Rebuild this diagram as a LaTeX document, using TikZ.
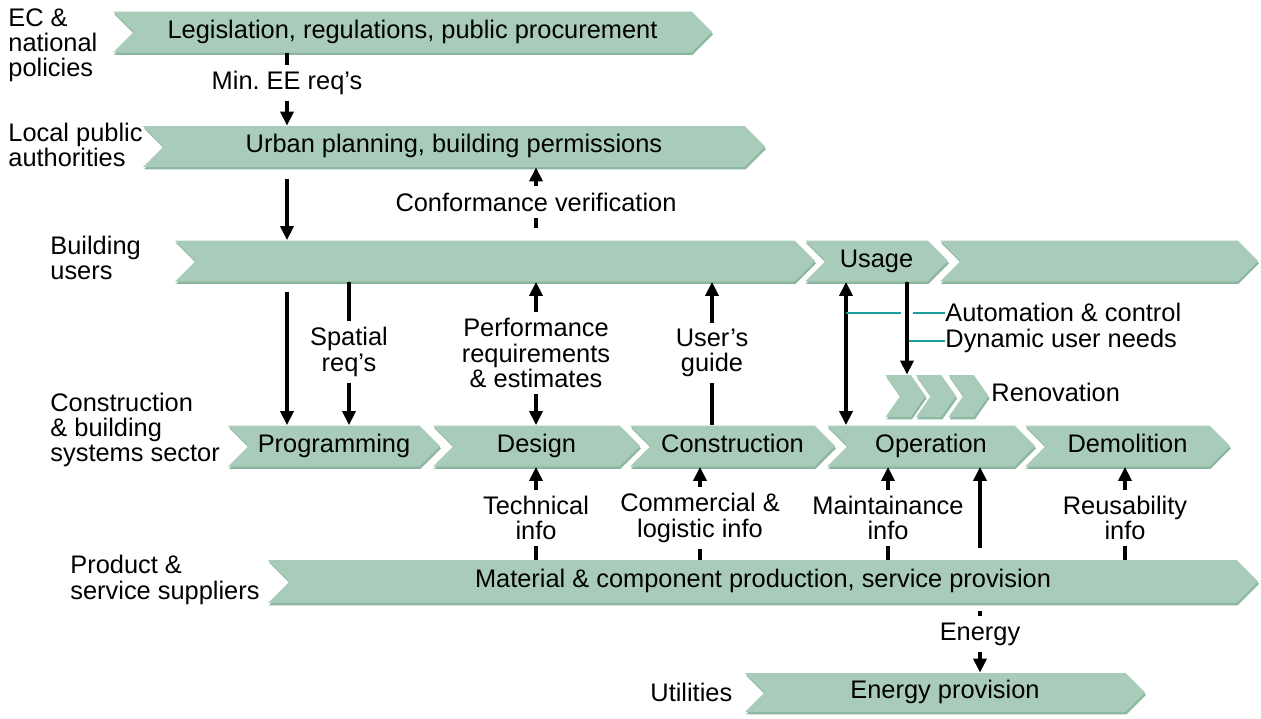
\documentclass[tikz,border=0pt]{standalone}
\usepackage{fontspec}
\setmainfont{Liberation Sans}
\usetikzlibrary{shapes.symbols}
\usetikzlibrary{shadows}
\usetikzlibrary{arrows.meta}
\frenchspacing

\definecolor{chevfill}{RGB}{169,204,186}
\definecolor{chevshade}{RGB}{138,182,160}
\definecolor{leadteal}{RGB}{30,158,158}

\begin{document}
\begin{tikzpicture}
        [
        x=0.5pt, y=-0.5pt,
        every node/.style={font=\fontsize{12.7}{12.6}\selectfont, inner sep=1pt},
        chev/.style={signal, signal from=west, signal to=east, signal pointer angle=90,
          fill=chevfill, minimum height=20.5pt, inner sep=0pt, text height=1.6ex, text depth=0.4ex,
          drop shadow={shadow xshift=0.5pt, shadow yshift=-1.2pt, fill=chevshade, opacity=1}},
        lbl/.style={align=center, inner sep=3pt},
        side/.style={align=left, anchor=west, inner sep=0pt},
        flow/.style={line width=2pt},
        flowto/.style={line width=2pt, -{Triangle[length=7pt,width=6.5pt]}},
        flowboth/.style={line width=2pt, {Triangle[length=7pt,width=6.5pt]}-{Triangle[length=7pt,width=6.5pt]}},
        leader/.style={leadteal, line width=0.6pt}
        ]
        \useasboundingbox (0,0) rectangle (1261,718);

        % process rows
        \node[chev, minimum width=299.5pt] (legis) at (412.5,32) {Legislation, regulations, public procurement};
        \node[chev, minimum width=311pt] (urban) at (454,146.5) {Urban planning, building permissions};
        \node[chev, minimum width=320pt] (users) at (495,261) {};
        \node[chev, minimum width=71.5pt] (usage) at (876.5,261) {Usage};
        \node[chev, minimum width=159pt] (later) at (1099,261) {};
        \node[chev, minimum width=106pt] (prog) at (334,446) {Programming};
        \node[chev, minimum width=103.5pt] (design) at (536.5,446) {Design};
        \node[chev, minimum width=102.5pt] (constr) at (732.5,446) {Construction};
        \node[chev, minimum width=104pt] (oper) at (931,446) {Operation};
        \node[chev, minimum width=102.5pt] (demol) at (1127.5,446) {Demolition};
        \foreach \i/\x in {1/905.5, 2/936, 3/968.5}
            \node[chev, signal pointer angle=110, minimum width=20pt, minimum height=21pt] (reno\i) at (\x,396) {};
        \node[chev, minimum width=495pt, minimum height=21.5pt] (matl) at (763,581.5) {Material \& component production, service provision};
        \node[chev, minimum width=200pt, minimum height=19.5pt] (enprov) at (945,692.5) {Energy provision};

        % actors
        \node[side] (ec) at (8,45) {EC \&\\national\\policies};
        \node[side] (local) at (8,145) {Local public\\authorities};
        \node[side] (buser) at (50,258) {Building\\users};
        \node[side] (cbss) at (50,430) {Construction\\\& building\\systems sector};
        \node[side] (psupp) at (70,580) {Product \&\\service suppliers};
        \node[side] (util) at (650,692) {Utilities};

        % flow labels
        \node[lbl] (minee) at (287,83) {Min. EE req’s};
        \node[lbl] (conf) at (536,202) {Conformance verification};
        \node[lbl] (spatial) at (349,352) {Spatial\\req’s};
        \node[lbl] (perf) at (536,353) {Performance\\requirements\\\& estimates};
        \node[lbl] (guide) at (712,353) {User’s\\guide};
        \node[side] (auto) at (945,312) {Automation \& control};
        \node[side] (dyn) at (945,341) {Dynamic user needs};
        \node[side] (renolbl) at (991,392) {Renovation};
        \node[lbl] (tech) at (536,518) {Technical\\info};
        \node[lbl] (comm) at (700,518) {Commercial \&\\logistic info};
        \node[lbl] (maint) at (888,518) {Maintainance\\info};
        \node[lbl] (reuse) at (1125,518) {Reusability\\info};
        \node[lbl] (energy) at (980,634) {Energy};
        \coordinate (opline) at (846,313);
        \coordinate (renoline) at (907,341);

        % authorities and users
        \draw[flow] (minee |- legis.south) -- (minee);
        \draw[flowto] (minee) -- (minee |- urban.north);
        \draw[flowto, shorten <=6pt] (minee |- urban.south) -- (minee |- users.north);
        \draw[flow, shorten <=6pt] (conf |- users.north) -- (conf);
        \draw[flowto] (conf) -- (conf |- urban.south);
        \draw[flowto, shorten <=5pt] (minee |- users.south) -- (minee |- prog.north);
        \draw[flow] (spatial |- users.south) -- (spatial);
        \draw[flowto] (spatial) -- (spatial |- prog.north);
        \draw[flowto] (perf) -- (perf |- users.south);
        \draw[flowto] (perf) -- (perf |- design.north);
        \draw[flow] (guide |- constr.north) -- (guide);
        \draw[flowto] (guide) -- (guide |- users.south);
        \draw[flowboth] (opline |- usage.south) -- (opline |- oper.north);
        \draw[leader] (opline) -- ([xshift=-3pt]renoline |- opline);
        \draw[leader] ([xshift=3pt]renoline |- opline) -- (auto.west |- opline);
        \draw[leader] (renoline) -- (dyn.west);
        \draw[flowto] (renoline |- usage.south) -- (renoline |- reno1.north);

        % suppliers and utilities
        \draw[flow] (tech |- matl.north) -- (tech);
        \draw[flowto] (tech) -- (tech |- design.south);
        \draw[flow] (comm |- matl.north) -- (comm);
        \draw[flowto] (comm) -- (comm |- constr.south);
        \draw[flow] (maint |- matl.north) -- (maint);
        \draw[flowto] (maint) -- (maint |- oper.south);
        \draw[flow] (reuse |- matl.north) -- (reuse);
        \draw[flowto] (reuse) -- (reuse |- demol.south);
        \draw[flowto, shorten <=6pt] (energy |- matl.north) -- (energy |- oper.south);
        \draw[flow, shorten <=4pt] (energy |- matl.south) -- (energy);
        \draw[flowto] (energy) -- (energy |- enprov.north);
    \end{tikzpicture}
\end{document}
